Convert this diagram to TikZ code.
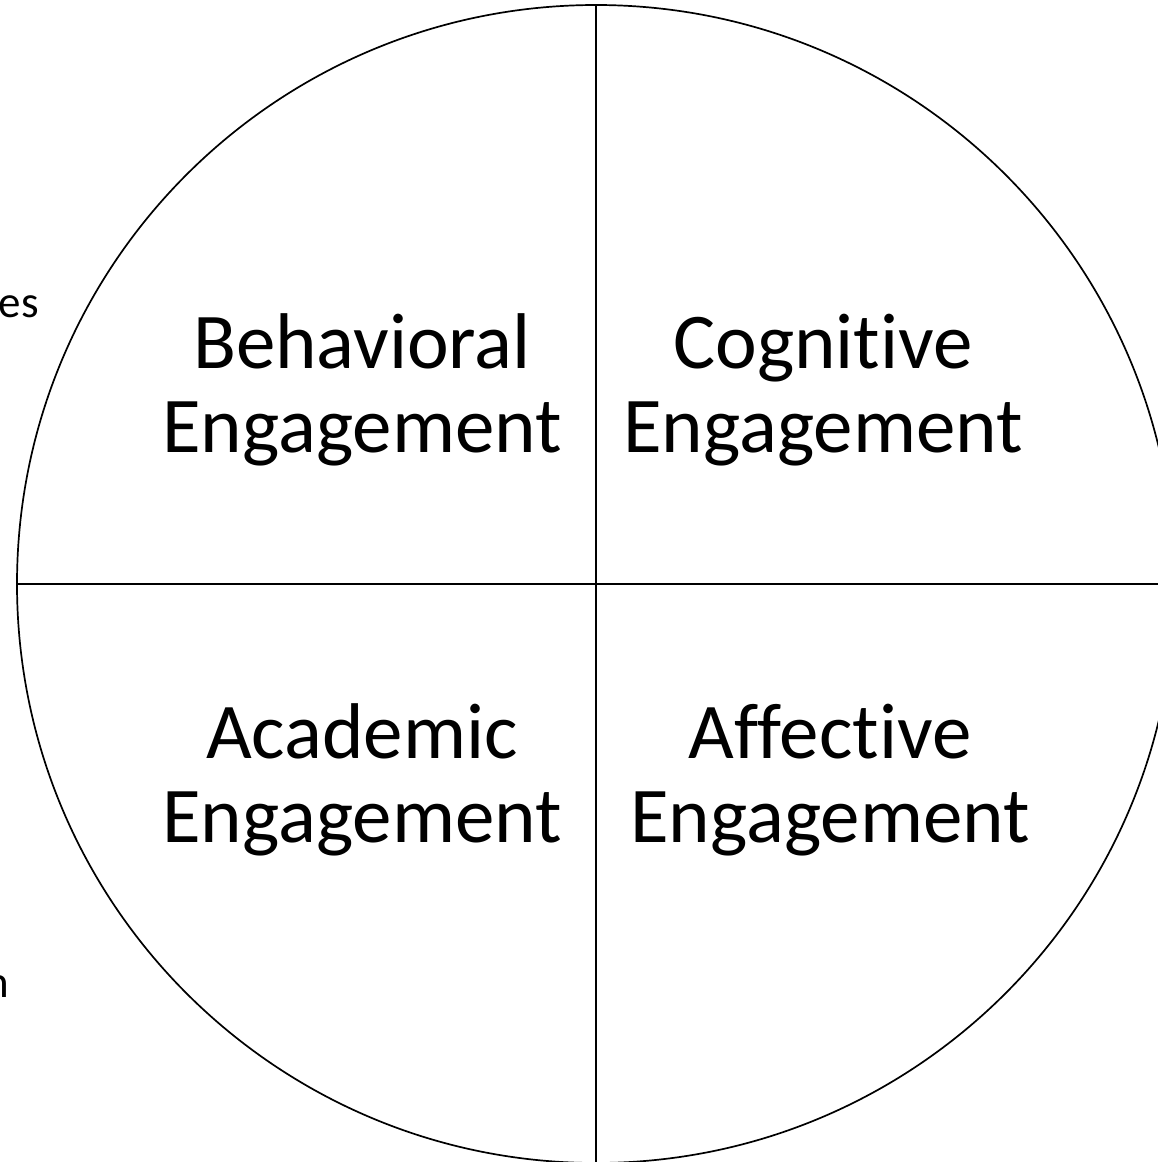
\documentclass[tikz,border=0pt]{standalone}
\usepackage{fontspec}
\setmainfont[Ligatures={NoCommon}]{Carlito}
\begin{document}
\begin{tikzpicture}[x=1pt,y=-1pt,
  divider/.style={line width=1.7pt, black},
  biglabel/.style={align=center, font=\fontsize{79}{84}\selectfont, inner sep=0pt},
  smalllabel/.style={font=\fontsize{45}{50}\selectfont, inner sep=0pt}]
\useasboundingbox (0,0) rectangle (1158,1162);
\clip (0,0) rectangle (1158,1162);
\fill[white] (0,0) rectangle (1158,1162);
\coordinate (c) at (596,584);
\draw[divider] (c) circle[radius=579];
\coordinate (top) at (596,5);
\coordinate (bot) at (596,1170);
\coordinate (lft) at (17,584);
\coordinate (rgt) at (1170,584);
\draw[divider] (top) -- (bot);
\draw[divider] (lft) -- (rgt);
\node[biglabel, anchor=base] (beh) at (362,452) {Behavioral\\Engagement};
\node[biglabel, anchor=base] (cog) at (823,452) {Cognitive\\Engagement};
\node[biglabel, anchor=base] (aca) at (362,842) {Academic\\Engagement};
\node[biglabel, anchor=base] (aff) at (830,842) {Affective\\Engagement};
\node[smalllabel, anchor=base east] (es) at (39,317) {es};
\node[smalllabel, anchor=base east] (nn) at (9,997) {n};
\end{tikzpicture}
\end{document}
